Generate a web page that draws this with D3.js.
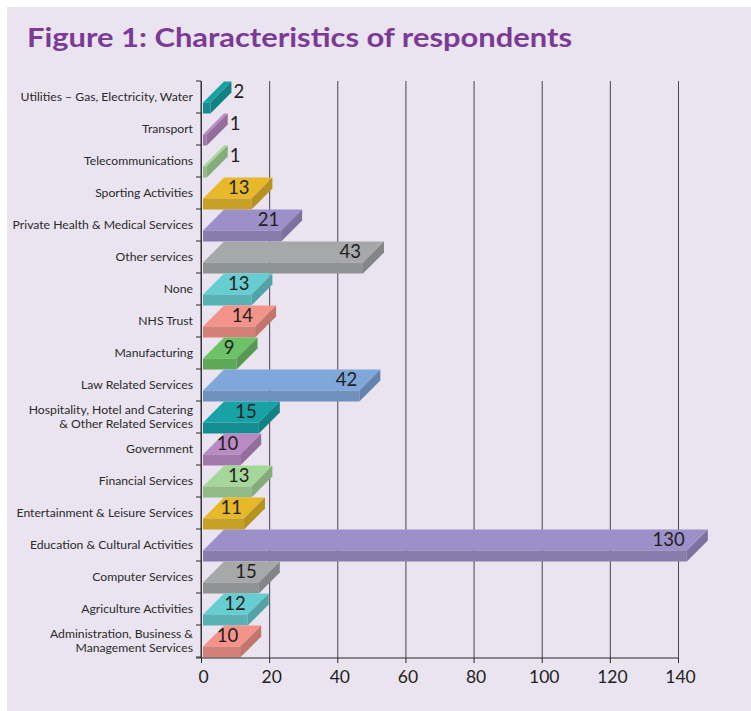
<!DOCTYPE html>
<html>
<head>
    <title>Figure 1: Characteristics of respondents</title>
    <script src="https://d3js.org/d3.v7.min.js"></script>
    <style>
        body { margin: 0; background: #fff; }
        text { font-family: Lato, "Open Sans", sans-serif; }
    </style>
</head>
<body>
    <svg width="751" height="711"></svg>
    <script>
        // Categories, top to bottom
        const categories = [
            "Utilities – Gas, Electricity, Water",
            "Transport",
            "Telecommunications",
            "Sporting Activities",
            "Private Health & Medical Services",
            "Other services",
            "None",
            "NHS Trust",
            "Manufacturing",
            "Law Related Services",
            "Hospitality, Hotel and Catering\n& Other Related Services",
            "Government",
            "Financial Services",
            "Entertainment & Leisure Services",
            "Education & Cultural Activities",
            "Computer Services",
            "Agriculture Activities",
            "Administration, Business &\nManagement Services"
        ];
        const values = [2, 1, 1, 13, 21, 43, 13, 14, 9, 42, 15, 10, 13, 11, 130, 15, 12, 10];
        const xTicks = [0, 20, 40, 60, 80, 100, 120, 140];
        // colour cycle, starting from the bottom bar
        const palette = ["#f4938a", "#66cdd1", "#a7a8aa", "#9b90c8", "#e6b82a",
                         "#a6d79a", "#b98ac3", "#17a3a6", "#7fa7da", "#6cc266"];

        const svg = d3.select("svg");
        const depth = 21, frontH = 11;

        // Panel
        svg.append("rect")
            .attr("x", 7).attr("y", 7)
            .attr("width", 744).attr("height", 704)
            .attr("fill", "#e9e4ef");

        // Title
        svg.append("text")
            .attr("x", 27).attr("y", 47)
            .attr("fill", "#7b3a96")
            .attr("font-size", 27)
            .attr("font-weight", "bold")
            .attr("textLength", 545)
            .attr("lengthAdjust", "spacingAndGlyphs")
            .text("Figure 1: Characteristics of respondents");

        // Scales
        const x = d3.scaleLinear().domain([0, 140]).range([201, 678]);      // back wall / axis
        const xBar = d3.scaleLinear().domain([0, 140]).range([203, 724]);   // front plane of the bars
        const y = d3.scaleBand().domain(categories).range([81, 657]);
        const color = d3.scaleOrdinal()
            .domain(categories.slice().reverse())
            .range(palette);

        // Grid lines
        svg.append("g")
            .attr("transform", "translate(0,658)")
            .call(d3.axisBottom(x).tickValues(xTicks).tickSize(-577).tickFormat(""))
            .call(g => g.select(".domain").remove())
            .call(g => g.selectAll("line").attr("stroke", "#4a4550"));

        // Left axis with ticks on band boundaries
        const yEdges = categories.map(c => y(c)).concat([657]);
        svg.append("line")
            .attr("x1", 201).attr("x2", 201)
            .attr("y1", 81).attr("y2", 658)
            .attr("stroke", "#2a2a2a");
        svg.selectAll("line.ytick")
            .data(yEdges)
            .enter()
            .append("line")
            .attr("class", "ytick")
            .attr("x1", 196).attr("x2", 201)
            .attr("y1", d => d).attr("y2", d => d)
            .attr("stroke", "#2a2a2a");

        // Bars (3D)
        const bars = svg.selectAll("g.bar")
            .data(categories.map((c, i) => ({ c: c, v: values[i] })))
            .enter()
            .append("g")
            .attr("class", "bar");

        function geom(d) {
            const yb = y(d.c) + y.bandwidth() + 0.5;
            const yf = yb - frontH;
            const yt = yf - depth;
            return { x0: xBar(0), x1: xBar(d.v), yb: yb, yf: yf, yt: yt };
        }

        bars.append("polygon")
            .attr("points", d => {
                const g = geom(d);
                return `${g.x0},${g.yf} ${g.x1},${g.yf} ${g.x1 + depth},${g.yt} ${g.x0 + depth},${g.yt}`;
            })
            .attr("fill", d => color(d.c));
        bars.append("rect")
            .attr("x", d => geom(d).x0)
            .attr("y", d => geom(d).yf)
            .attr("width", d => geom(d).x1 - geom(d).x0)
            .attr("height", frontH)
            .attr("fill", d => d3.color(color(d.c)).darker(0.4));
        bars.append("polygon")
            .attr("points", d => {
                const g = geom(d);
                return `${g.x1},${g.yf} ${g.x1 + depth},${g.yt} ${g.x1 + depth},${g.yt + frontH} ${g.x1},${g.yb}`;
            })
            .attr("fill", d => d3.color(color(d.c)).darker(0.65));

        // Value labels
        bars.append("text")
            .attr("x", d => d.v < 5 ? geom(d).x1 + depth + 2 : geom(d).x1 - 2)
            .attr("y", d => (geom(d).yf + geom(d).yt) / 2 + 6)
            .attr("text-anchor", d => d.v < 5 ? "start" : "end")
            .attr("font-size", 18.5)
            .attr("fill", "#231f20")
            .text(d => d.v);

        // X axis
        const xAxis = svg.append("g")
            .attr("transform", "translate(0,658)")
            .call(d3.axisBottom(x).tickValues(xTicks).tickSize(5).tickPadding(8));
        xAxis.select(".domain").attr("d", "M196,0H678").attr("stroke", "#2a2a2a");
        xAxis.selectAll("line").attr("stroke", "#2a2a2a");
        xAxis.selectAll("text")
            .attr("dx", 2)
            .attr("font-family", "Lato, sans-serif")
            .attr("font-size", 17.5)
            .attr("fill", "#231f20");

        // Category labels
        svg.selectAll("text.cat")
            .data(categories)
            .enter()
            .append("text")
            .attr("class", "cat")
            .attr("text-anchor", "end")
            .attr("font-size", 12.2)
            .attr("fill", "#2b2b2b")
            .each(function (c) {
                const lines = c.split("\n");
                const cy = y(c) + y.bandwidth() / 2;
                lines.forEach((l, k) => {
                    d3.select(this).append("tspan")
                        .attr("x", 193)
                        .attr("y", cy + 4 + (k - (lines.length - 1) / 2) * 14)
                        .text(l);
                });
            });
    </script>
</body>
</html>
